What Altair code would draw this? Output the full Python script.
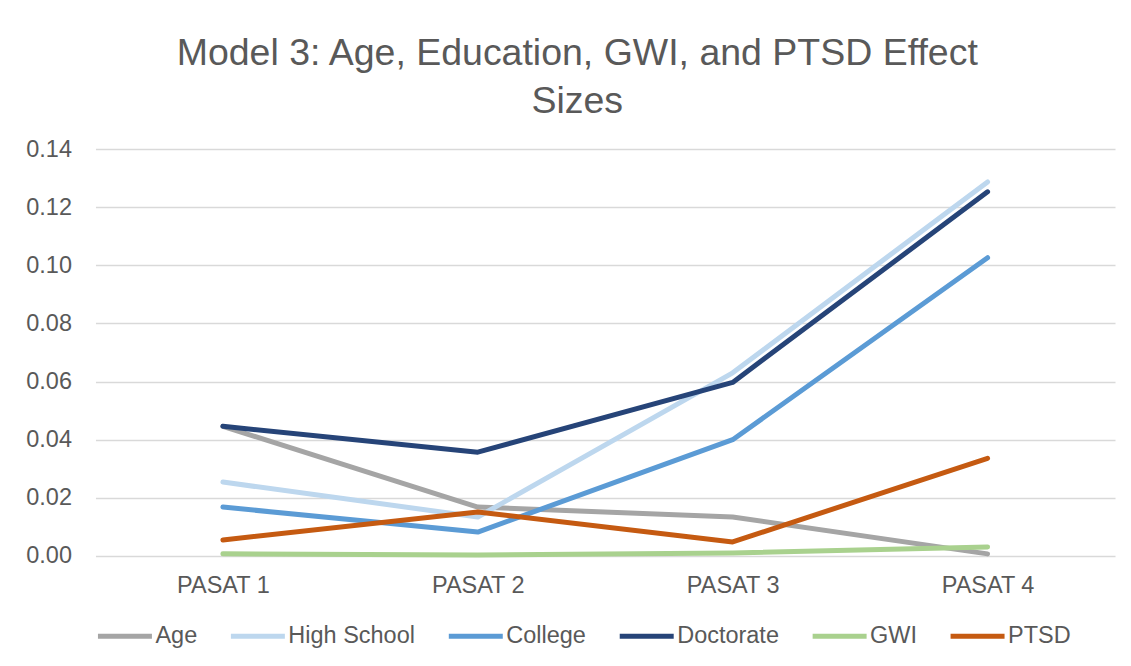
import altair as alt
import pandas as pd

categories = ["PASAT 1", "PASAT 2", "PASAT 3", "PASAT 4"]
series_names = ["Age", "High School", "College", "Doctorate", "GWI", "PTSD"]
age = [0.0446, 0.0168, 0.0134, 0.0007]
high_school = [0.0254, 0.0134, 0.0630, 0.1287]
college = [0.0168, 0.0082, 0.0400, 0.1026]
doctorate = [0.0446, 0.0357, 0.0597, 0.1253]
gwi = [0.0007, 0.0003, 0.0010, 0.0031]
ptsd = [0.0055, 0.0151, 0.0048, 0.0336]
colors = ["#A5A5A5", "#BDD7EE", "#5B9BD5", "#264478", "#A9D18E", "#C55A11"]
y_ticks = [0.0, 0.02, 0.04, 0.06, 0.08, 0.10, 0.12, 0.14]

values = [age, high_school, college, doctorate, gwi, ptsd]
rows = []
for name, vals in zip(series_names, values):
    for i, (c, v) in enumerate(zip(categories, vals)):
        rows.append({"Test": c, "Series": name, "Value": v, "order": i})
df = pd.DataFrame(rows)

FONT = "Liberation Sans"
TXT = "#595959"

chart = alt.Chart(df).mark_line(strokeWidth=5, strokeCap="round", strokeJoin="round").encode(
    x=alt.X("Test:N", sort=categories, title=None,
            scale=alt.Scale(type="point", padding=0.5),
            axis=alt.Axis(labelAngle=0, ticks=False, domain=False, grid=False,
                          labelFontSize=23.5, labelColor=TXT, labelFont=FONT,
                          labelPadding=18, labelBaseline="top")),
    y=alt.Y("Value:Q", title=None,
            scale=alt.Scale(domain=[0, 0.14], nice=False),
            axis=alt.Axis(values=y_ticks, format=".2f", ticks=False, domain=False,
                          gridColor="#D9D9D9", gridWidth=1.5,
                          labelFontSize=23.5, labelColor=TXT, labelFont=FONT,
                          labelPadding=24)),
    color=alt.Color("Series:N", sort=series_names,
                    scale=alt.Scale(domain=series_names, range=colors),
                    legend=alt.Legend(title=None, orient="none", direction="horizontal",
                                      legendX=0, legendY=458,
                                      symbolType="stroke", symbolSize=2916,
                                      symbolStrokeWidth=5,
                                      labelFontSize=23.5, labelColor=TXT, labelFont=FONT,
                                      labelOffset=1, columnPadding=23)),
    order=alt.Order("order:Q"),
).properties(
    width=1020,
    height=407,
    title=alt.TitleParams(
        text=["Model 3: Age, Education, GWI, and PTSD Effect", "Sizes"],
        fontSize=37.5, font=FONT, color=TXT, fontWeight="normal",
        anchor="middle", dx=-28, offset=-21, lineHeight=48, baseline="bottom",
    ),
    autosize=alt.AutoSizeParams(type="none"),
    padding={"left": 87.5, "top": 141, "right": 8, "bottom": 100},
).configure_view(stroke=None)

chart.save("out.html", embed_options={"renderer": "svg", "actions": False})
